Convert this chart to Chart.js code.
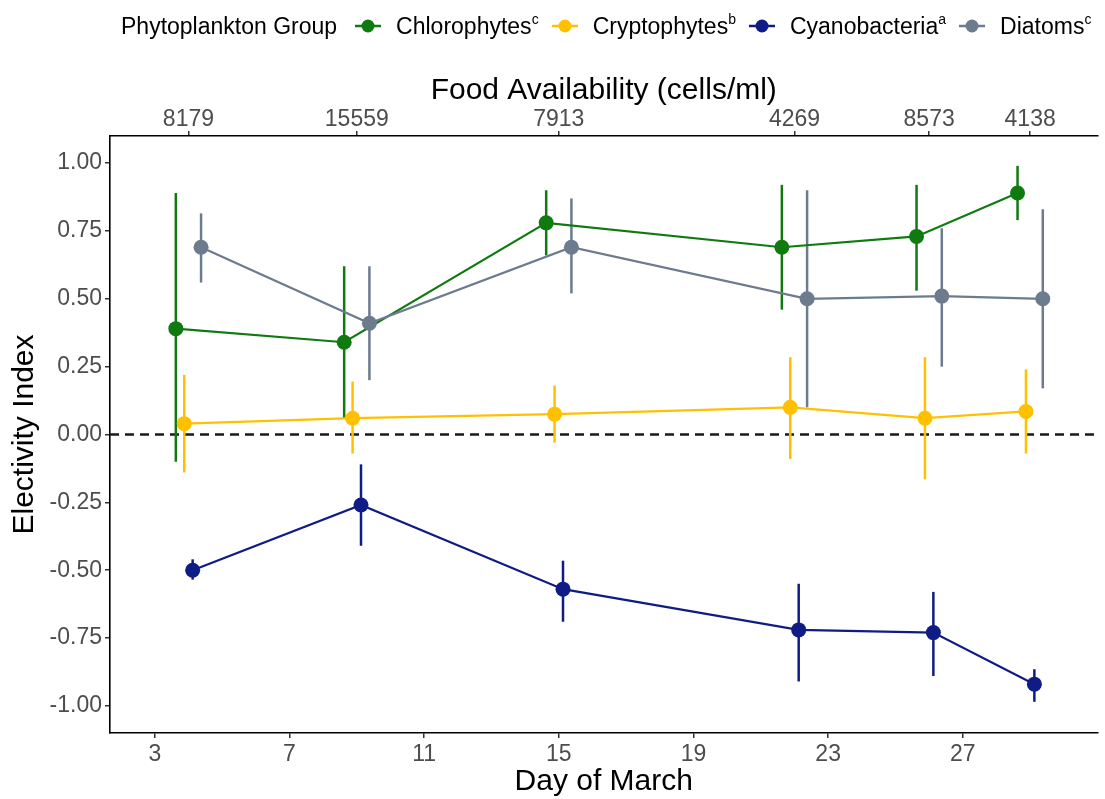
<!DOCTYPE html>
<html>
<head>
<meta charset="utf-8">
<script src="https://cdn.jsdelivr.net/npm/chart.js@4.4.1/dist/chart.umd.min.js"></script>
<style>
  body { margin: 0; background: #fff; }
  #wrap { position: relative; width: 1105px; height: 799px; }
  #legend {
    position: absolute; left: 121px; top: 10px; height: 32px;
    display: flex; align-items: center; white-space: nowrap;
    font-family: 'Liberation Sans', Arial, sans-serif; font-size: 23px; color: #000;
  }
  #legend .key { display: block; margin-left: 15px; }
  #legend .key.first { margin-left: 18px; }
  #legend .name { margin-left: 15px; }
  #legend sup { font-size: 14px; vertical-align: 10px; line-height: 0; }
  #legend .item { display: flex; align-items: center; margin-right: -2px; }
</style>
</head>
<body>
<div id="wrap">
  <canvas id="grafico" width="1105" height="799"></canvas>
  <div id="legend"><span>Phytoplankton Group</span></div>
</div>
<script>
// dados
const groups = ['Chlorophytes', 'Cryptophytes', 'Cyanobacteria', 'Diatoms'];
const letters = ['c', 'b', 'a', 'c'];
const colors = ['#0f7a0f', '#ffc000', '#101c85', '#6c7b8e'];

const days = [4, 9, 15, 22, 26, 29];
const foodAvailability = ['8179', '15559', '7913', '4269', '8573', '4138'];
const dayTicks = [3, 7, 11, 15, 19, 23, 27];
const indexTicks = [-1, -0.75, -0.5, -0.25, 0, 0.25, 0.5, 0.75, 1];

const chloroMean = [0.39, 0.34, 0.78, 0.69, 0.73, 0.89];
const chloroLow = [-0.10, 0.06, 0.66, 0.46, 0.53, 0.79];
const chloroHigh = [0.89, 0.62, 0.90, 0.92, 0.92, 0.99];

const cryptoMean = [0.04, 0.06, 0.075, 0.10, 0.06, 0.085];
const cryptoLow = [-0.14, -0.07, -0.03, -0.09, -0.165, -0.07];
const cryptoHigh = [0.22, 0.195, 0.18, 0.285, 0.285, 0.24];

const cyanoMean = [-0.50, -0.26, -0.57, -0.72, -0.73, -0.92];
const cyanoLow = [-0.535, -0.41, -0.69, -0.91, -0.89, -0.985];
const cyanoHigh = [-0.46, -0.11, -0.465, -0.55, -0.58, -0.865];

const diatomMean = [0.69, 0.41, 0.69, 0.50, 0.51, 0.50];
const diatomLow = [0.56, 0.20, 0.52, 0.10, 0.25, 0.17];
const diatomHigh = [0.815, 0.62, 0.87, 0.90, 0.76, 0.83];

const series = [
  { mean: chloroMean, low: chloroLow, high: chloroHigh },
  { mean: cryptoMean, low: cryptoLow, high: cryptoHigh },
  { mean: cyanoMean, low: cyanoLow, high: cyanoHigh },
  { mean: diatomMean, low: diatomLow, high: diatomHigh },
];

// deslocamento de cada grupo (position_dodge)
const dodge = [-0.375, -0.125, 0.125, 0.375];
const fonte = "'Liberation Sans', Arial, sans-serif";

// legenda em html (para os sobrescritos)
const legenda = document.getElementById('legend');
groups.forEach((g, i) => {
  const item = document.createElement('span');
  item.className = 'item';
  item.innerHTML =
    '<svg class="key' + (i === 0 ? ' first' : '') + '" width="26" height="16">' +
    '<line x1="0" y1="8" x2="26" y2="8" stroke="' + colors[i] + '" stroke-width="2.5"/>' +
    '<circle cx="13" cy="8" r="6.5" fill="' + colors[i] + '"/></svg>' +
    '<span class="name">' + g + '<sup>' + letters[i] + '</sup></span>';
  legenda.appendChild(item);
});

// linha do zero e barras de erro
const barrasErro = {
  id: 'barrasErro',
  beforeDatasetsDraw(chart) {
    const { ctx, chartArea, scales: { x, y } } = chart;
    ctx.save();
    const y0 = y.getPixelForValue(0);
    ctx.strokeStyle = '#1a1a1a';
    ctx.lineWidth = 2.6;
    ctx.setLineDash([9, 6]);
    ctx.beginPath();
    ctx.moveTo(chartArea.left, y0);
    ctx.lineTo(chartArea.right, y0);
    ctx.stroke();
    ctx.setLineDash([]);
    series.forEach((s, i) => {
      ctx.strokeStyle = colors[i];
      ctx.lineWidth = 2.5;
      days.forEach((d, j) => {
        const px = x.getPixelForValue(d + dodge[i]);
        ctx.beginPath();
        ctx.moveTo(px, y.getPixelForValue(s.low[j]));
        ctx.lineTo(px, y.getPixelForValue(s.high[j]));
        ctx.stroke();
      });
    });
    ctx.restore();
  }
};

const data = {
  datasets: groups.map((g, i) => ({
    label: g,
    data: days.map((d, j) => ({ x: d + dodge[i], y: series[i].mean[j] })),
    borderColor: colors[i],
    backgroundColor: colors[i],
    pointBackgroundColor: colors[i],
    borderWidth: 2.2,
    pointRadius: 7.5,
    pointHoverRadius: 7.5,
    pointBorderWidth: 0,
    tension: 0,
    order: 3 - i,
  }))
};

const eixoGrid = { drawOnChartArea: false, drawTicks: true, tickLength: 5, color: '#333', lineWidth: 1.5 };
const eixoBorda = { display: true, color: '#000', width: 1.6 };
const tickFont = { family: fonte, size: 23 };
const tituloFont = { family: fonte, size: 30, lineHeight: 1 };

const config = {
  type: 'line',
  data: data,
  plugins: [barrasErro],
  options: {
    responsive: false,
    devicePixelRatio: 1,
    animation: false,
    layout: { padding: { top: 50, right: 2, left: 0, bottom: 0 } },
    plugins: { legend: { display: false }, tooltip: { enabled: false } },
    scales: {
      x: {
        type: 'linear', position: 'bottom', min: 1.67, max: 31,
        afterBuildTicks: s => { s.ticks = dayTicks.map(v => ({ value: v })); },
        afterFit: s => { s.height = 66; },
        grid: eixoGrid, border: eixoBorda,
        ticks: { font: tickFont, color: '#4d4d4d', padding: 3, maxRotation: 0, autoSkip: false },
        title: { display: true, text: 'Day of March', font: tituloFont, color: '#000', padding: { top: 0, bottom: 2 } },
      },
      x2: {
        type: 'linear', position: 'top', min: 1.67, max: 31,
        afterBuildTicks: s => { s.ticks = days.map(v => ({ value: v })); },
        afterFit: s => { s.height = 86; },
        grid: eixoGrid, border: eixoBorda,
        ticks: {
          font: tickFont, color: '#4d4d4d', padding: -2, maxRotation: 0, autoSkip: false,
          callback: (v, i) => foodAvailability[i],
        },
        title: { display: true, text: 'Food Availability (cells/ml)', font: tituloFont, color: '#000', padding: { top: 26, bottom: 0 } },
      },
      y: {
        min: -1.1, max: 1.1,
        afterBuildTicks: s => { s.ticks = indexTicks.map(v => ({ value: v })); },
        afterFit: s => { s.width = 110; },
        grid: eixoGrid, border: eixoBorda,
        ticks: { font: tickFont, color: '#4d4d4d', padding: 3, callback: v => v.toFixed(2) },
        title: { display: true, text: 'Electivity Index', font: tituloFont, color: '#000', padding: { top: 10, bottom: 0 } },
      },
    },
  },
};

const chart = new Chart(document.getElementById('grafico'), config);
</script>
</body>
</html>
